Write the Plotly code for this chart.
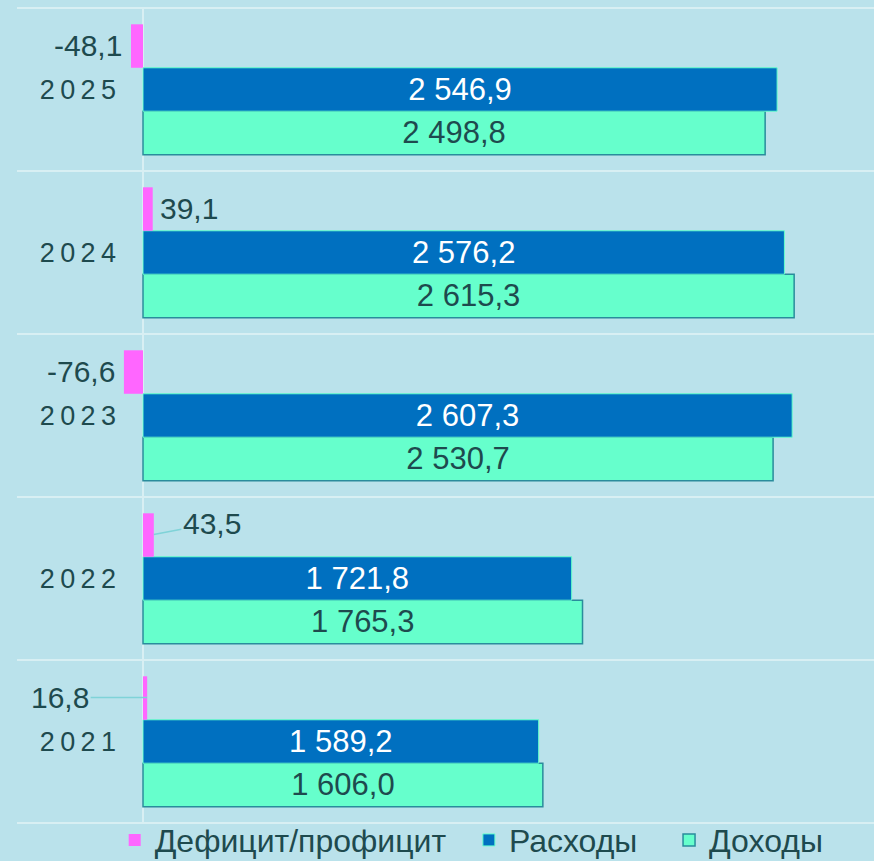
import plotly.graph_objects as go

# данные (млн руб.)
years = ["2021", "2022", "2023", "2024", "2025"]
dohody = [1606.0, 1765.3, 2530.7, 2615.3, 2498.8]
rashody = [1589.2, 1721.8, 2607.3, 2576.2, 2546.9]
deficit = [16.8, 43.5, -76.6, 39.1, -48.1]
year_labels = ["2\u20090\u20092\u20091", "2\u20090\u20092\u20092", "2\u20090\u20092\u20093",
               "2\u20090\u20092\u20094", "2\u20090\u20092\u20095"]

TEXT = "#1E4A4E"
GRID = "#D8EFF3"
FONT = "Liberation Sans, Arial, sans-serif"
NB = "\u00a0"

fig = go.Figure()

# порядок трасс снизу вверх внутри группы: доходы, расходы, дефицит
fig.add_trace(go.Bar(
    y=years, x=dohody, orientation="h", name="Доходы",
    marker=dict(color="#66FFCC", line=dict(color="#2A8C9C", width=1.5)),
    texttemplate="%{x:,.1f}", textposition="inside", insidetextanchor="middle",
    textfont=dict(color=TEXT, size=31, family=FONT),
))
fig.add_trace(go.Bar(
    y=years, x=rashody, orientation="h", name="Расходы" + NB * 3,
    marker=dict(color="#0070C0", line=dict(color="#66FFCC", width=1)),
    texttemplate="%{x:,.1f}", textposition="inside", insidetextanchor="middle",
    textfont=dict(color="white", size=31, family=FONT),
))
fig.add_trace(go.Bar(
    y=years, x=deficit, orientation="h", name="Дефицит/профицит" + NB * 2,
    marker=dict(color="#FF66FF", line=dict(width=0)),
    textposition="none",
))

# подписи дефицита/профицита (y — номер категории)
PINK_SHIFT = 44
for i, (yr, v) in enumerate(zip(years, deficit)):
    txt = f"{v:.1f}".replace(".", ",")
    if yr == "2022":
        fig.add_annotation(x=v, y=i, yshift=PINK_SHIFT, text=txt, showarrow=True,
                           arrowhead=0, arrowwidth=1.5, arrowcolor="#7FD3D8",
                           ax=58, ay=-11, standoff=0,
                           font=dict(size=30, color=TEXT, family=FONT))
    elif yr == "2021":
        fig.add_annotation(x=v, y=i, yshift=PINK_SHIFT, text=txt, showarrow=True,
                           arrowhead=0, arrowwidth=1.5, arrowcolor="#7FD3D8",
                           ax=-87, ay=0, standoff=0,
                           font=dict(size=30, color=TEXT, family=FONT))
    else:
        fig.add_annotation(x=v, y=i, yshift=PINK_SHIFT, text=txt, showarrow=False,
                           xanchor="right" if v < 0 else "left",
                           xshift=-7 if v < 0 else 5,
                           font=dict(size=30, color=TEXT, family=FONT))

# верхняя и нижняя линии сетки по краям области построения
for yy in (0, 1):
    fig.add_shape(type="line", xref="paper", yref="paper", x0=0, x1=1, y0=yy, y1=yy,
                  line=dict(color=GRID, width=2), layer="below")

fig.update_layout(
    width=874, height=861,
    margin=dict(l=17, r=0, t=8, b=38, autoexpand=False),
    barmode="group", bargap=0.2, bargroupgap=0,
    separators=", ",
    paper_bgcolor="#BAE2EB", plot_bgcolor="#BAE2EB",
    font=dict(family=FONT, color=TEXT),
    uniformtext=dict(minsize=31, mode="show"),
    showlegend=True,
    legend=dict(orientation="h", traceorder="reversed",
                x=0.114, xanchor="left", y=-0.021, yanchor="middle",
                font=dict(size=32, color=TEXT, family=FONT),
                bgcolor="rgba(0,0,0,0)", itemwidth=30),
)
fig.update_xaxes(range=[-506, 2936], showgrid=False, showticklabels=False,
                 zeroline=True, zerolinecolor=GRID, zerolinewidth=2,
                 fixedrange=True)
fig.update_yaxes(type="category", range=[-0.5, 4.5], autorange=False,
                 anchor="free", position=126 / 857,
                 tickvals=years, ticktext=year_labels, tickson="boundaries",
                 showgrid=True, gridcolor=GRID, gridwidth=2,
                 ticks="", ticklabelstandoff=27,
                 tickfont=dict(size=27, color=TEXT, family=FONT),
                 showline=False, zeroline=False, fixedrange=True)

fig.write_html(
    "out.html",
    config={"displayModeBar": False},
    post_script="document.body.style.margin='0';document.body.style.background='#BAE2EB';",
)
